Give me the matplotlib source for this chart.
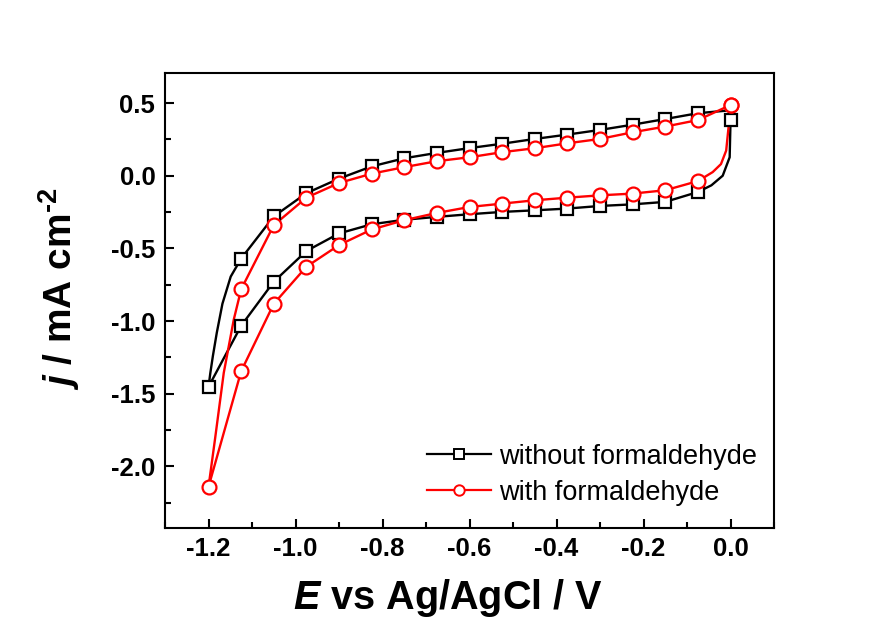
import matplotlib
matplotlib.use("Agg")
import matplotlib.pyplot as plt
import numpy as np
from matplotlib.lines import Line2D
from matplotlib.ticker import MultipleLocator, FormatStrFormatter

plt.rcParams['font.family'] = ['Liberation Sans', 'DejaVu Sans']
plt.rcParams['mathtext.fontset'] = 'custom'
plt.rcParams['mathtext.rm'] = 'Liberation Sans:bold'
plt.rcParams['mathtext.it'] = 'Liberation Sans:italic:bold'
plt.rcParams['mathtext.bf'] = 'Liberation Sans:bold'

# potential grid of the markers, cathodic sweep (0 -> -1.2 V) and back
E_cath = [0.0, -0.075, -0.15, -0.225, -0.3, -0.375, -0.45, -0.525, -0.6,
          -0.675, -0.75, -0.825, -0.9, -0.975, -1.05, -1.125, -1.2]
E_anod = E_cath[::-1]

# without formaldehyde (black squares)
black_cath = [0.38, -0.112, -0.18, -0.197, -0.208, -0.226, -0.238, -0.249, -0.265,
              -0.283, -0.303, -0.334, -0.397, -0.518, -0.729, -1.032, -1.452]
black_anod = [-1.452, -0.57, -0.28, -0.12, -0.02, 0.064, 0.12, 0.157, 0.19,
              0.22, 0.253, 0.283, 0.315, 0.351, 0.39, 0.43, 0.45]
black_corner_E = [-0.002, -0.018, -0.044]
black_corner_j = [0.127, 0.0, -0.066]
black_turn_E = [-1.196, -1.19, -1.181, -1.168, -1.149]
black_turn_j = [-1.36, -1.24, -1.08, -0.88, -0.694]

# with formaldehyde (red circles)
red_cath = [0.486, -0.037, -0.1, -0.123, -0.135, -0.151, -0.169, -0.192, -0.215,
            -0.256, -0.306, -0.37, -0.477, -0.626, -0.881, -1.345, -2.14]
red_anod = [-2.14, -0.781, -0.34, -0.151, -0.05, 0.014, 0.059, 0.1, 0.127,
            0.162, 0.189, 0.223, 0.253, 0.299, 0.338, 0.383, 0.486]
red_corner_E = [-0.004, -0.01, -0.022, -0.041]
red_corner_j = [0.35, 0.173, 0.08, 0.025]
red_turn_E = [-1.185, -1.165, -1.142]
red_turn_j = [-1.81, -1.356, -0.99]


def build_trace(j_cath, j_anod, corner_E, corner_j, turn_E, turn_j, start_j):
    E = [0.0, E_cath[0]] + corner_E + E_cath[1:] + turn_E + E_anod[1:]
    j = [start_j, j_cath[0]] + corner_j + j_cath[1:] + turn_j + j_anod[1:]
    return E, j


fig = plt.figure(figsize=(8.83, 6.25), dpi=100)
ax = fig.add_axes([0.1869, 0.156, 0.6897, 0.728])

bE, bj = build_trace(black_cath, black_anod, black_corner_E, black_corner_j,
                     black_turn_E, black_turn_j, black_anod[-1])
rE, rj = build_trace(red_cath, red_anod, red_corner_E, red_corner_j,
                     red_turn_E, red_turn_j, red_anod[-1])

ax.plot(bE, bj, color='black', lw=1.7, zorder=2)
ax.plot(rE, rj, color='red', lw=1.7, zorder=3)

mk_b = dict(ls='none', marker='s', ms=8, mfc='white', mec='black', mew=1.6)
mk_r = dict(ls='none', marker='o', ms=10, mfc='white', mec='red', mew=1.6)
ax.plot(E_cath, black_cath, zorder=4, **mk_b)
ax.plot(E_anod[1:-1], black_anod[1:-1], zorder=4, **mk_b)
ax.plot(E_cath, red_cath, zorder=5, **mk_r)
ax.plot(E_anod[1:], red_anod[1:], zorder=5, **mk_r)

ax.set_xlim(-1.3, 0.1)
ax.set_ylim(-2.42, 0.71)
ax.xaxis.set_major_locator(MultipleLocator(0.2))
ax.xaxis.set_minor_locator(MultipleLocator(0.1))
ax.yaxis.set_major_locator(MultipleLocator(0.5))
ax.yaxis.set_minor_locator(MultipleLocator(0.25))
ax.tick_params(which='both', direction='in', top=False, right=False,
               width=1.5, labelsize=18.5, pad=7)
ax.tick_params(which='major', length=6.5)
ax.tick_params(which='minor', length=4.3)
for lab in ax.get_xticklabels() + ax.get_yticklabels():
    lab.set_fontweight('bold')
ax.xaxis.set_major_formatter(FormatStrFormatter('%.1f'))
ax.yaxis.set_major_formatter(FormatStrFormatter('%.1f'))
for sp in ax.spines.values():
    sp.set_linewidth(1.5)

ax.set_xlabel(r'$\mathit{E}$ vs Ag/AgCl / V', fontsize=28.5, fontweight='bold')
ax.set_ylabel(r'$\mathit{j}$ / mA cm$^{\text{-2}}$', fontsize=28, fontweight='bold')
ax.xaxis.set_label_coords(0.465, -0.108)
ax.yaxis.set_label_coords(-0.136, 0.524)

handles = [Line2D([], [], color='black', lw=1.6, marker='s', ms=6.5, mfc='white', mec='black', mew=1.4),
           Line2D([], [], color='red', lw=1.6, marker='o', ms=7.5, mfc='white', mec='red', mew=1.4)]
ax.legend(handles, ['without formaldehyde', 'with formaldehyde'], loc='upper left',
          bbox_to_anchor=(0.430, 0.184), frameon=False, fontsize=19.5,
          handlelength=2.35, handletextpad=0.3, labelspacing=0.36,
          borderpad=0, borderaxespad=0, markerfirst=True)

fig.savefig('out.png', dpi=100)
